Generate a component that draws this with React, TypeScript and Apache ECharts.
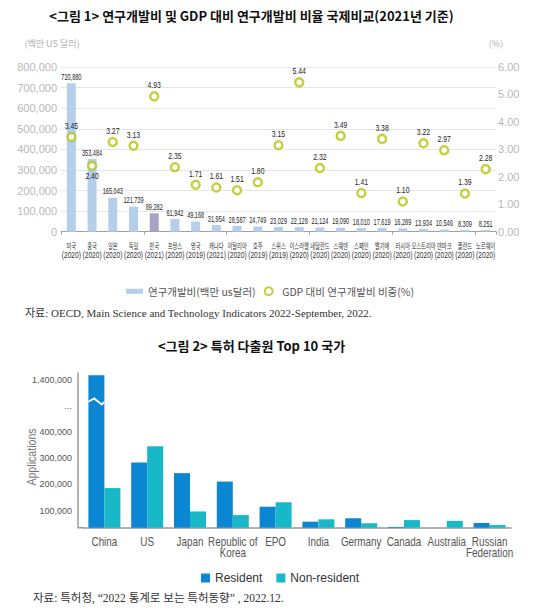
import React, { useEffect, useRef } from 'react';
import * as echarts from 'echarts';

// ---------- Figure 1 data ----------
const rdCountries = ['미국', '중국', '일본', '독일', '한국', '프랑스', '영국', '캐나다', '이탈리아', '호주', '스위스', '이스라엘', '네덜란드', '스웨덴', '스페인', '벨기에', '러시아', '오스트리아', '덴마크', '폴란드', '노르웨이'];
const rdYears = ['2020', '2020', '2020', '2020', '2021', '2020', '2019', '2021', '2020', '2019', '2019', '2020', '2020', '2020', '2020', '2020', '2020', '2020', '2020', '2020', '2020'];
const rdSpend = [720880, 353484, 165043, 121739, 89282, 61942, 49168, 31954, 28587, 24749, 23029, 22128, 21124, 19090, 18010, 17619, 16289, 13934, 10546, 8309, 8251];
const rdRatio = [3.45, 2.40, 3.27, 3.13, 4.93, 2.35, 1.71, 1.61, 1.51, 1.80, 3.15, 5.44, 2.32, 3.49, 1.41, 3.38, 1.10, 3.22, 2.97, 1.39, 2.28];
const highlightCountry = '한국';
const ratioLabelBelow = ['중국'];
const rdSpendName = '연구개발비(백만 us달러)';
const rdRatioName = 'GDP 대비 연구개발비 비중(%)';

// ---------- Figure 2 data ----------
const patentCountries = ['China', 'US', 'Japan', 'Republic of\nKorea', 'EPO', 'India', 'Germany', 'Canada', 'Australia', 'Russian\nFederation'];
const resident = [1416000, 284000, 243000, 211000, 115000, 58000, 71000, 38000, 35000, 53000];
const nonResident = [186000, 346000, 97000, 83000, 132000, 67000, 52000, 64000, 61000, 45000];
const patentTickValues = [100000, 200000, 300000, 400000, 500000, 600000];
const patentTickLabels = ['100,000', '200,000', '300,000', '400,000', '...', '1,400,000'];
const patentAxisMin = 35000;
const patentAxisMax = 625000;
const axisBreakFrom = 1000000;
const axisBreakShift = 800000;
const breakMarkValue = 515000;

const toDisplay = (v: number) => (v > axisBreakFrom ? v - axisBreakShift : v);

const SANS = "'Liberation Sans', Arial, sans-serif";
const KR = "'Noto Sans CJK KR', 'Noto Sans', sans-serif";
const SERIF = "'Liberation Serif', 'DejaVu Serif', 'Noto Sans CJK KR', serif";

const BAR = '#b5cfeb';
const BAR_HI = '#a7a2c6';
const RING = '#b7c414';
const RES = '#0a86d2';
const NONRES = '#17b8c8';

const narrowText = (x: number, y: number, text: string, size: number, sx: number, fill: string, family: string) => ({
  type: 'text', x, y, scaleX: sx,
  style: { text, fontSize: size, fontFamily: family, fill, align: 'center', verticalAlign: 'middle' },
});

export default function App() {
  const ref = useRef<HTMLDivElement>(null);
  useEffect(() => {
    if (!ref.current) return;
    const chart = echarts.init(ref.current, null, { renderer: 'svg' });
    const option: any = {
      animation: false,
      backgroundColor: '#ffffff',
      grid: [
        { left: 61, right: 44, top: 67, height: 164.7 },
        { left: 83, right: 29, top: 373, height: 154.7 },
      ],
      xAxis: [
        {
          type: 'category', gridIndex: 0, data: rdCountries,
          axisLine: { lineStyle: { color: '#a0a0a0' } },
          axisTick: { show: true, length: 3, lineStyle: { color: '#a0a0a0' } },
          axisLabel: { show: false },
        },
        {
          type: 'category', gridIndex: 1, data: patentCountries,
          axisLine: { lineStyle: { color: '#9a9a9a', width: 1.5 } },
          axisTick: { show: false },
          axisLabel: { show: false },
        },
      ],
      yAxis: [
        {
          type: 'value', gridIndex: 0, min: 0, max: 800000, interval: 100000,
          axisLine: { show: false }, axisTick: { show: false },
          axisLabel: { margin: 4, fontSize: 11, color: '#b8b8b8', fontFamily: SANS, formatter: (v: number) => v.toLocaleString('en-US') },
          splitLine: { lineStyle: { color: '#e6e6e6' } },
        },
        {
          type: 'value', gridIndex: 0, position: 'right', min: 0, max: 6, interval: 1,
          axisLine: { show: false }, axisTick: { show: false }, splitLine: { show: false },
          axisLabel: { margin: 2, fontSize: 11, color: '#b8b8b8', fontFamily: SANS, formatter: (v: number) => v.toFixed(2) },
        },
        {
          type: 'value', gridIndex: 1, min: patentAxisMin, max: patentAxisMax, offset: 5,
          axisLine: { show: true, lineStyle: { color: '#9a9a9a', width: 1.5 } },
          axisTick: { show: false }, splitLine: { show: false },
          axisLabel: {
            customValues: patentTickValues, margin: 6, fontSize: 9, color: '#555', fontFamily: SANS,
            formatter: (v: number) => { const k = patentTickValues.indexOf(v); return k >= 0 ? patentTickLabels[k] : ''; },
          },
        },
      ],
      legend: [
        {
          data: [
            { name: rdSpendName, icon: 'path://M0,0h17v5h-17z' },
            { name: rdRatioName, icon: 'circle' },
          ],
          top: 281, left: 'center', itemWidth: 17, itemHeight: 8, itemGap: 8,
          textStyle: { fontSize: 10.5, color: '#555', fontFamily: KR },
        },
        {
          data: ['Resident', 'Non-resident'],
          top: 567, left: 196, itemWidth: 9, itemHeight: 9, itemGap: 14, icon: 'rect',
          textStyle: { fontSize: 12, color: '#333', fontFamily: SANS },
        },
      ],
      series: [
        {
          name: rdSpendName, type: 'bar', xAxisIndex: 0, yAxisIndex: 0, barWidth: 9,
          itemStyle: { color: BAR },
          data: rdSpend.map((v, i) => ({ value: v, itemStyle: { color: rdCountries[i] === highlightCountry ? BAR_HI : BAR } })),
        },
        {
          name: rdRatioName, type: 'scatter', xAxisIndex: 0, yAxisIndex: 1, symbol: 'circle', symbolSize: 8,
          itemStyle: { color: '#ffffff', borderColor: RING, borderWidth: 2.5 },
          data: rdRatio, z: 5,
        },
        {
          // bar value labels (condensed)
          type: 'custom', xAxisIndex: 0, yAxisIndex: 0, silent: true, clip: false, z: 10,
          data: rdSpend.map((v, i) => [i, v]),
          renderItem: (params: any, api: any) => {
            const p = api.coord([api.value(0), api.value(1)]);
            return narrowText(p[0], p[1] - 6.3, Number(api.value(1)).toLocaleString('en-US'), 9, 0.62, '#222', SANS);
          },
        },
        {
          // ratio labels (condensed)
          type: 'custom', xAxisIndex: 0, yAxisIndex: 1, silent: true, clip: false, z: 10,
          data: rdRatio.map((v, i) => [i, v]),
          renderItem: (params: any, api: any) => {
            const i = api.value(0);
            const p = api.coord([i, api.value(1)]);
            const dy = ratioLabelBelow.includes(rdCountries[i]) ? 10.5 : -11;
            return narrowText(p[0], p[1] + dy, Number(api.value(1)).toFixed(2), 9.5, 0.72, '#222', SANS);
          },
        },
        {
          // category labels figure 1
          type: 'custom', xAxisIndex: 0, yAxisIndex: 0, silent: true, clip: false, z: 10,
          data: rdCountries.map((_, i) => [i, 0]),
          renderItem: (params: any, api: any) => {
            const i = api.value(0);
            const p = api.coord([i, 0]);
            return {
              type: 'group',
              children: [
                narrowText(p[0], p[1] + 13.5, rdCountries[i], 8.5, 0.62, '#333', KR),
                narrowText(p[0], p[1] + 24, `(${rdYears[i]})`, 8.5, 0.78, '#333', SANS),
              ],
            };
          },
        },
        {
          name: 'Resident', type: 'bar', xAxisIndex: 1, yAxisIndex: 2, barWidth: 16, barGap: '0%',
          itemStyle: { color: RES }, data: resident.map(toDisplay),
        },
        {
          name: 'Non-resident', type: 'bar', xAxisIndex: 1, yAxisIndex: 2, barWidth: 16, barGap: '0%',
          itemStyle: { color: NONRES }, data: nonResident.map(toDisplay),
        },
        {
          // axis-break mark on the China bar
          type: 'custom', xAxisIndex: 1, yAxisIndex: 2, silent: true, z: 10,
          data: [[0, breakMarkValue]],
          renderItem: (params: any, api: any) => {
            const p = api.coord([api.value(0), api.value(1)]);
            const x0 = p[0] - 16;
            const y = p[1];
            return {
              type: 'polyline',
              shape: { points: [[x0, y], [x0 + 5.7, y - 3.4], [x0 + 13.4, y + 2.7], [x0 + 16, y]] },
              style: { stroke: '#ffffff', lineWidth: 1.8, fill: null },
            };
          },
        },
        {
          // category labels figure 2 (condensed)
          type: 'custom', xAxisIndex: 1, yAxisIndex: 2, silent: true, clip: false, z: 10,
          data: patentCountries.map((_, i) => [i, patentAxisMin]),
          renderItem: (params: any, api: any) => {
            const i = api.value(0);
            const p = api.coord([i, api.value(1)]);
            const lines = patentCountries[i].split('\n');
            return {
              type: 'group',
              children: lines.map((t, k) => narrowText(p[0], p[1] + 14 + k * 11, t, 13, 0.76, '#555', SANS)),
            };
          },
        },
      ],
      graphic: [
        { type: 'text', x: 251.5, y: 15, style: { text: '<그림 1> 연구개발비 및 GDP 대비 연구개발비 비율 국제비교(2021년 기준)', fontSize: 13, fontWeight: 'bold', fontFamily: KR, fill: '#111', align: 'center', verticalAlign: 'middle' } },
        { type: 'text', x: 52, y: 43, style: { text: '(백만 US 달러)', fontSize: 9, fontFamily: KR, fill: '#b0b0b0', align: 'center', verticalAlign: 'middle' } },
        { type: 'text', x: 496, y: 43, style: { text: '(%)', fontSize: 9, fontFamily: KR, fill: '#b0b0b0', align: 'center', verticalAlign: 'middle' } },
        { type: 'text', x: 25, y: 313, style: { text: '자료: OECD, Main Science and Technology Indicators 2022-September, 2022.', fontSize: 11, fontFamily: SERIF, fill: '#333', align: 'left', verticalAlign: 'middle' } },
        { type: 'text', x: 251.5, y: 345, style: { text: '<그림 2> 특허 다출원 Top 10 국가', fontSize: 13, fontWeight: 'bold', fontFamily: KR, fill: '#111', align: 'center', verticalAlign: 'middle' } },
        { type: 'text', x: 31, y: 457, rotation: Math.PI / 2, scaleX: 0.85, style: { text: 'Applications', fontSize: 12.5, fontFamily: SANS, fill: '#777', align: 'center', verticalAlign: 'middle' } },
        { type: 'text', x: 33, y: 598, style: { text: '자료: 특허청, “2022 통계로 보는 특허동향” , 2022.12.', fontSize: 11.5, fontFamily: SERIF, fill: '#333', align: 'left', verticalAlign: 'middle' } },
        { type: 'line', shape: { x1: 77.5, y1: 527.7, x2: 83.5, y2: 527.7 }, style: { stroke: '#9a9a9a', lineWidth: 1.5 } },
      ],
    };
    chart.setOption(option);
    return () => chart.dispose();
  }, []);
  return <div ref={ref} style={{ position: 'absolute', left: 0, top: 0, width: 540, height: 614, background: '#fff' }} />;
}
